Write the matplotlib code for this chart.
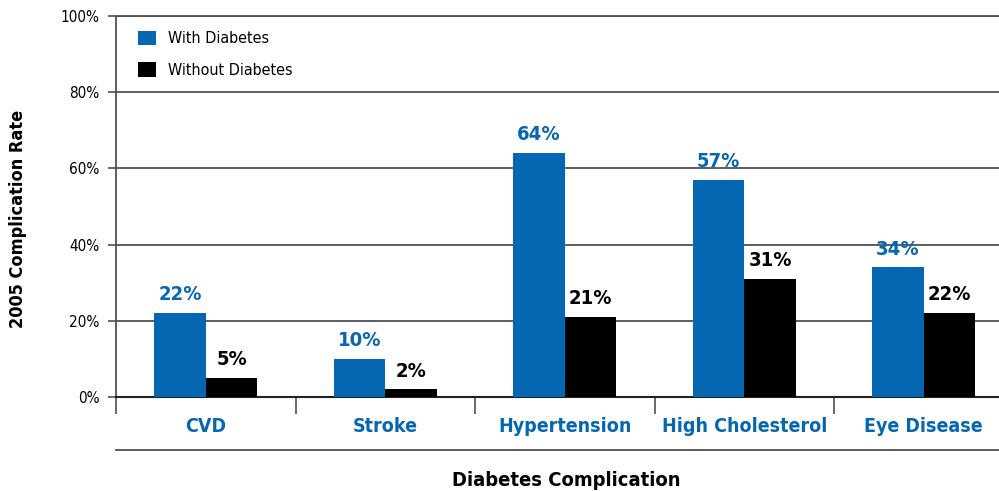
import matplotlib as mpl
mpl.use('Agg')
import matplotlib.pyplot as plt
from matplotlib.lines import Line2D
import numpy as np

categories = ["CVD", "Stroke", "Hypertension", "High Cholesterol", "Eye Disease"]
with_diabetes = [22, 10, 64, 57, 34]
without_diabetes = [5, 2, 21, 31, 22]
yticks = [0, 20, 40, 60, 80, 100]

BLUE = "#0567b1"
GRID = "#505050"

plt.rcParams['font.family'] = ['DejaVu Sans']
plt.rcParams['font.stretch'] = 'condensed'

fig = plt.figure(figsize=(9.99, 4.91), dpi=100)
# axes runs off the right edge of the figure
ax = fig.add_axes([116 / 999, (491 - 397) / 491, 883 / 999, 381 / 491])

x = np.arange(len(categories))
w = 0.287
b1 = ax.bar(x - w / 2, with_diabetes, w, color=BLUE, label="With Diabetes", zorder=3)
b2 = ax.bar(x + w / 2, without_diabetes, w, color="black", label="Without Diabetes", zorder=3)

for rect, v in zip(b1, with_diabetes):
    ax.text(rect.get_x() + rect.get_width() / 2, v + 2.3, f"{v}%", ha="center", va="bottom",
            color=BLUE, fontsize=14.5, fontweight="bold", fontstretch="condensed")
for rect, v in zip(b2, without_diabetes):
    ax.text(rect.get_x() + rect.get_width() / 2, v + 2.3, f"{v}%", ha="center", va="bottom",
            color="black", fontsize=14.5, fontweight="bold", fontstretch="condensed")

ax.set_xlim(-0.5, -0.5 + 883 / 179.5)
ax.set_ylim(0, 100)

ax.set_yticks(yticks)
ax.set_yticklabels([f"{t}%" for t in yticks], fontsize=11, fontstretch="condensed")
ax.tick_params(axis='y', direction='out', length=6, width=1.2, color=GRID, pad=6)
ax.yaxis.grid(True, color=GRID, linewidth=1.3, zorder=0)

ax.set_xticks(x)
ax.set_xticklabels(categories, fontsize=14, fontweight="bold", color=BLUE, fontstretch="condensed")
ax.tick_params(axis='x', which='major', length=0, pad=14.5)
ax.set_xticks(np.arange(len(categories)) - 0.5, minor=True)
ax.tick_params(axis='x', which='minor', direction='out', length=12, width=1.2, color=GRID)

ax.spines["right"].set_visible(False)
ax.spines["top"].set_color(GRID)
ax.spines["top"].set_linewidth(1.3)
ax.spines["left"].set_color(GRID)
ax.spines["left"].set_linewidth(1.3)
ax.spines["bottom"].set_color("#222222")
ax.spines["bottom"].set_linewidth(1.5)

# rule under the category names
ax.add_line(Line2D([0, 1], [-0.139, -0.139], transform=ax.transAxes, color=GRID,
                   linewidth=1.3, clip_on=False))

fig.text(18 / 999, 1 - 219 / 491, "2005 Complication Rate", rotation=90, ha="center",
         va="center", fontsize=13, fontweight="bold", fontstretch="condensed")
fig.text(566 / 999, 1 - 480 / 491, "Diabetes Complication", ha="center", va="center",
         fontsize=14.5, fontweight="bold", fontstretch="condensed")

leg = ax.legend(loc="upper left", bbox_to_anchor=(0.0, 1.02), frameon=False,
                prop={"size": 11.5, "stretch": "condensed"},
                handlelength=1.1, handleheight=1.0, handletextpad=0.75, labelspacing=1.0,
                borderpad=0.5, borderaxespad=0.9)

fig.savefig("out.png", dpi=100)
